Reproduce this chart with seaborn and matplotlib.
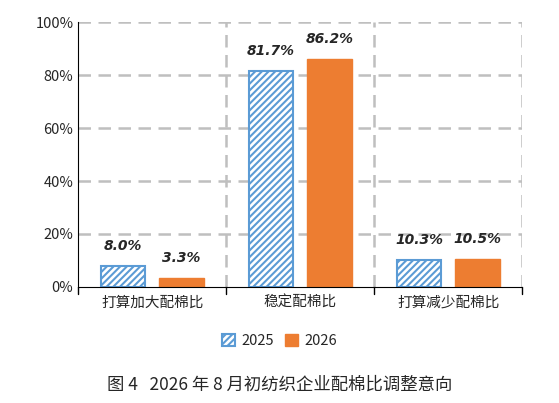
import pandas as pd
import matplotlib
matplotlib.use('Agg')
import matplotlib.pyplot as plt
from matplotlib.patches import Patch
import seaborn as sns

categories = ['打算加大配棉比', '稳定配棉比', '打算减少配棉比']
years = ['2025', '2026']
values_2025 = [8.0, 81.7, 10.3]
values_2026 = [3.3, 86.2, 10.5]
labels_2025 = ['8.0%', '81.7%', '10.3%']
labels_2026 = ['3.3%', '86.2%', '10.5%']

sns.set_style('white')
plt.rcParams['font.family'] = ['Noto Sans CJK SC', 'DejaVu Sans']
plt.rcParams['hatch.color'] = '#5B9BD5'
plt.rcParams['hatch.linewidth'] = 1.5

df = pd.DataFrame({
    'cat': categories * 2,
    'year': [years[0]] * 3 + [years[1]] * 3,
    'val': values_2025 + values_2026,
})

fig = plt.figure(figsize=(5.59, 4.03), dpi=100)
ax = fig.add_axes([0.14, 0.288, 0.794, 0.657])
sns.barplot(data=df, x='cat', y='val', hue='year', ax=ax, width=0.79, gap=0.24,
            palette=['white', '#ED7D31'], saturation=1, legend=False)

for p in ax.containers[0]:
    p.set_edgecolor('#5B9BD5')
    p.set_hatch('/////')
    p.set_linewidth(1.5)
for p in ax.containers[1]:
    p.set_edgecolor('#ED7D31')

for cont, labs in zip(ax.containers, [labels_2025, labels_2026]):
    for p, t in zip(cont, labs):
        ax.text(p.get_x() + p.get_width() / 2, p.get_height() + 7.5, t,
                ha='center', va='center', fontsize=10, fontweight='bold',
                fontstyle='italic', family='DejaVu Sans')

ax.set_ylim(0, 100)
ax.set_xlim(-0.5, 2.5)
ax.set_yticks(range(0, 101, 20))
ax.set_yticklabels([f'{v}%' for v in range(0, 101, 20)], fontsize=10.5)
ax.set_xlabel('')
ax.set_ylabel('')
ax.tick_params(axis='x', length=0, labelsize=10.5, pad=6)
ax.tick_params(axis='y', length=0)

for y in range(20, 101, 20):
    ax.axhline(y, color='#BFBFBF', lw=1.8, ls=(0, (5, 3)), zorder=0)
for x in [0.5, 1.5, 2.5]:
    ax.axvline(x, color='#BFBFBF', lw=1.8, ls=(0, (5, 3)), zorder=0)
for x in [-0.5, 0.5, 1.5, 2.5]:
    ax.plot([x, x], [0, -2.5], color='black', lw=1, clip_on=False)

for s in ['top', 'right']:
    ax.spines[s].set_visible(False)
ax.spines['left'].set_color('black')
ax.spines['bottom'].set_color('black')

handles = [Patch(facecolor='white', edgecolor='#5B9BD5', hatch='/////', lw=1.5),
           Patch(facecolor='#ED7D31', edgecolor='#ED7D31')]
fig.legend(handles, years, loc='center', bbox_to_anchor=(0.5, 0.153), ncol=2,
           frameon=False, fontsize=10.5, handlelength=0.9, handleheight=0.9,
           columnspacing=0.8, handletextpad=0.4)

fig.text(0.5, 0.045, '图 4   2026 年 8 月初纺织企业配棉比调整意向', ha='center',
         va='center', fontsize=12.5)

fig.savefig('out.png', dpi=100)
